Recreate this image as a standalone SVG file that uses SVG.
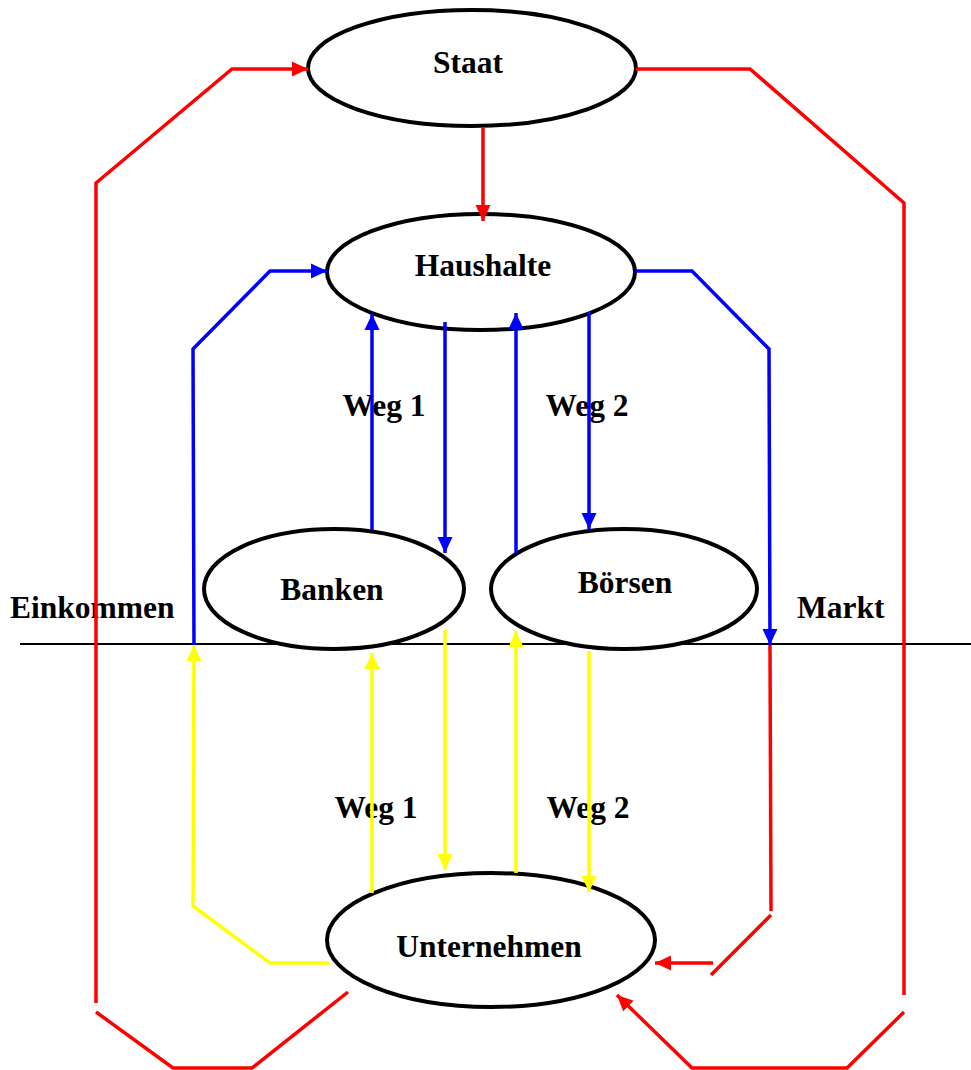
<svg xmlns="http://www.w3.org/2000/svg" width="971" height="1070" viewBox="0 0 971 1070">
<style>
.t{font-family:"Liberation Serif","Times New Roman",serif;font-weight:bold;font-size:31.5px;fill:#000}
.n{fill:#fff;stroke:#000;stroke-width:4}
.c{fill:none;stroke-width:3.5;stroke-linejoin:miter}
.r{stroke:#ff0000}.b{stroke:#0000ff}.y{stroke:#ffff00}
</style>
<defs>
<marker id="ar" markerUnits="userSpaceOnUse" markerWidth="17" markerHeight="16" refX="16" refY="8" orient="auto"><path d="M0,0.5 L16,8 L0,15.5 z" fill="#ff0000"/></marker>
<marker id="ab" markerUnits="userSpaceOnUse" markerWidth="17" markerHeight="16" refX="16" refY="8" orient="auto"><path d="M0,0.5 L16,8 L0,15.5 z" fill="#0000ff"/></marker>
<marker id="ay" markerUnits="userSpaceOnUse" markerWidth="17" markerHeight="16" refX="16" refY="8" orient="auto"><path d="M0,0.5 L16,8 L0,15.5 z" fill="#ffff00"/></marker>
</defs>
<rect width="971" height="1070" fill="#fff"/>
<line x1="20" y1="644" x2="971" y2="644" stroke="#000" stroke-width="2"/>
<g id="labels">
<text class="t" x="10" y="618">Einkommen</text>
<text class="t" x="797" y="618">Markt</text>
<text class="t" x="384" y="416" text-anchor="middle">Weg 1</text>
<text class="t" x="587" y="416" text-anchor="middle">Weg 2</text>
<text class="t" x="376" y="818" text-anchor="middle">Weg 1</text>
<text class="t" x="588" y="818" text-anchor="middle">Weg 2</text>
</g>
<g id="staat">
<ellipse class="n" cx="472" cy="68" rx="164" ry="58"/>
<text class="t" x="468" y="73" text-anchor="middle">Staat</text>
</g>
<g id="haushalte">
<ellipse class="n" cx="481" cy="272" rx="154" ry="58"/>
<text class="t" x="483" y="276" text-anchor="middle">Haushalte</text>
</g>
<g id="banken">
<ellipse class="n" cx="334" cy="589" rx="130" ry="60"/>
<text class="t" x="332" y="600" text-anchor="middle">Banken</text>
</g>
<g id="boersen">
<ellipse class="n" cx="624" cy="589" rx="133" ry="60"/>
<text class="t" x="625" y="593" text-anchor="middle">Börsen</text>
</g>
<g id="unternehmen">
<ellipse class="n" cx="491" cy="940" rx="164" ry="67"/>
<text class="t" x="489" y="957" text-anchor="middle">Unternehmen</text>
</g>
<g id="connectors">
<polyline class="c r" points="96,1003 96,183 232,69 308,69" marker-end="url(#ar)"/>
<polyline class="c r" points="96,1012 173,1068 252,1068 348,992"/>
<polyline class="c r" points="636,69 750,69 904,203 904,995"/>
<polyline class="c r" points="904,1012 847,1068 692,1068 617,995" marker-end="url(#ar)"/>
<polyline class="c r" points="483,127 483,221" marker-end="url(#ar)"/>
<polyline class="c r" points="770,645 771,911"/>
<polyline class="c r" points="771,915 711,975"/>
<polyline class="c r" points="713,963 655,963" marker-end="url(#ar)"/>
<polyline class="c b" points="194,645 193,349 270,271 327,271" marker-end="url(#ab)"/>
<polyline class="c b" points="636,271 692,271 769,349 770,645" marker-end="url(#ab)"/>
<polyline class="c b" points="372,530 372,314" marker-end="url(#ab)"/>
<polyline class="c b" points="445,322 445,553" marker-end="url(#ab)"/>
<polyline class="c b" points="516,553 516,313" marker-end="url(#ab)"/>
<polyline class="c b" points="589,312 589,529" marker-end="url(#ab)"/>
<polyline class="c y" points="329,963 270,963 193,906 194,645" marker-end="url(#ay)"/>
<polyline class="c y" points="372,893 372,653" marker-end="url(#ay)"/>
<polyline class="c y" points="445,630 445,870" marker-end="url(#ay)"/>
<polyline class="c y" points="516,873 516,631" marker-end="url(#ay)"/>
<polyline class="c y" points="589,651 589,892" marker-end="url(#ay)"/>
</g>
</svg>
